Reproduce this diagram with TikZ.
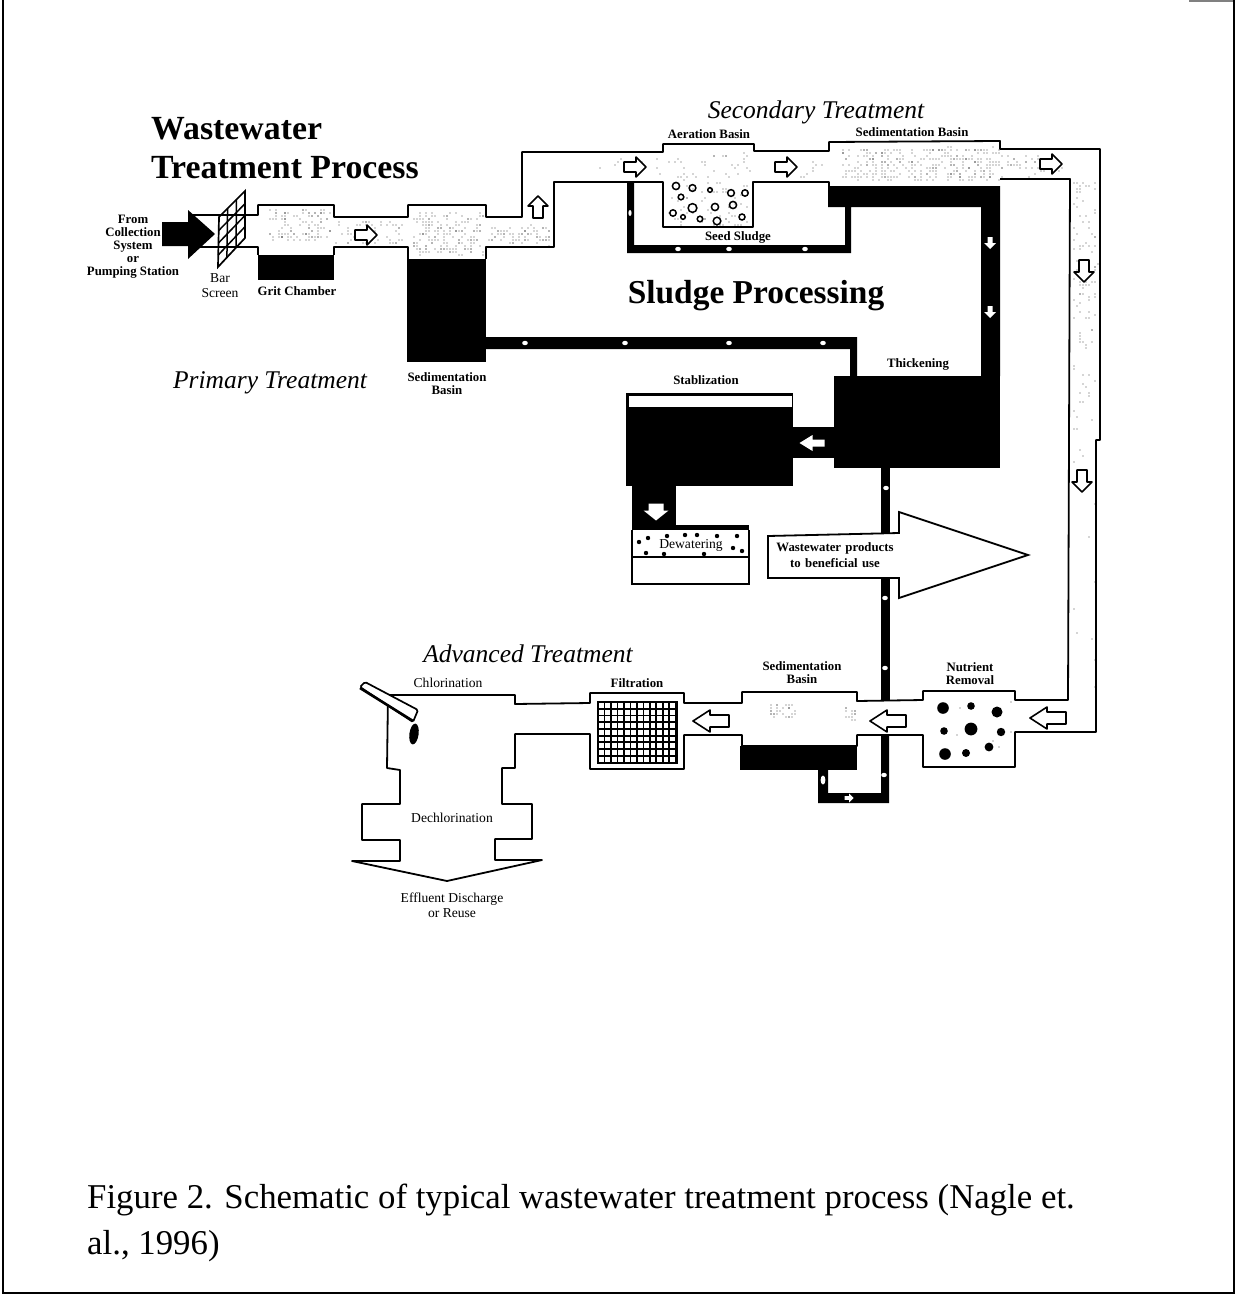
\documentclass[tikz,border=0pt]{standalone}
\usepackage{fontspec}
\setmainfont{Liberation Serif}
\usetikzlibrary{positioning}
\tikzset{
  pipeline/.style={line width=1.8pt, line join=round},
  sludge/.style={fill=black, draw=none},
  smalllabel/.style={font=\bfseries\fontsize{12.8}{13}\selectfont, align=center, inner sep=0pt},
  lightlabel/.style={font=\fontsize{13.6}{15}\selectfont, align=center, inner sep=0pt},
  stagelabel/.style={font=\itshape\fontsize{25.5}{27}\selectfont, inner sep=0pt},
  titlelabel/.style={font=\bfseries\fontsize{33.8}{39}\selectfont, align=left, inner sep=0pt},
  flowarrow/.pic={\draw[line width=1.6pt, fill=white, line join=round] (-11,-5)--(1,-5)--(1,-10)--(11,0)--(1,10)--(1,5)--(-11,5)--cycle;},
  bigflowarrow/.pic={\draw[line width=1.6pt, fill=white, line join=round] (-18,-6)--(1,-6)--(1,-11)--(18,0)--(1,11)--(1,6)--(-18,6)--cycle;},
  solidarrow/.pic={\fill[white] (-6,-2.5)--(0,-2.5)--(0,-6)--(6,0)--(0,6)--(0,2.5)--(-6,2.5)--cycle;},
  pressarrow/.pic={\fill[white] (-12,-3.5)--(0,-3.5)--(0,-8)--(13,0)--(0,8)--(0,3.5)--(-12,3.5)--cycle;},
  droparrow/.pic={\fill[white] (-8,-7.5)--(-1,-7.5)--(-1,-12.5)--(9,0)--(-1,12.5)--(-1,7.5)--(-8,7.5)--cycle;},
  sludgedot/.style={fill=white, draw=none}
}
\newcommand{\stipple}[5]{%
  \foreach \n in {1,...,#5}{
    \pgfmathsetmacro\dotx{3*round((#1+rnd*(#3-#1))/3)}
    \pgfmathsetmacro\doty{3*round((#2+rnd*(#4-#2))/3)}
    \fill[black!70] (\dotx,\doty) circle (0.55);
  }
}
\begin{document}
\begin{tikzpicture}[x=1pt,y=-1pt]
  \path[use as bounding box] (0,0) rectangle (1235,1295);
  \fill[white] (0,0) rectangle (1235,1295);
  % frame
  \draw[black!50, line width=1.6pt] (1189,0.8) -- (1234,0.8);
  \draw[line width=2pt] (3,0) -- (3,1293) -- (1234,1293) -- (1234,0);
  \pgfmathsetseed{17}
  % stipple in the channels
  \stipple{268}{210}{330}{240}{110}
  \stipple{335}{222}{405}{244}{50}
  \stipple{412}{212}{484}{255}{170}
  \stipple{490}{226}{552}{245}{70}
  \stipple{600}{160}{660}{174}{8}
  \stipple{668}{152}{750}{226}{100}
  \stipple{800}{160}{830}{178}{8}
  \stipple{843}{148}{998}{180}{300}
  \stipple{1000}{155}{1065}{176}{40}
  \stipple{1073}{180}{1097}{350}{80}
  \stipple{1073}{350}{1097}{470}{20}
  \stipple{1073}{470}{1097}{690}{8}
  \stipple{763}{703}{797}{717}{30}
  \stipple{843}{707}{857}{720}{14}
  \stipple{925}{695}{1012}{765}{10}
  % channel outlines
  \draw[pipeline] (190,215) -- (258,215) -- (258,205) -- (334,205) -- (334,217) -- (408,217) -- (408,205)
    -- (486,205) -- (486,217) -- (522,217) -- (522,152) -- (663,152) -- (663,144) -- (754,144) -- (754,151)
    -- (829,151) -- (829,142) -- (1000,141) -- (1000,149) -- (1100,149) -- (1100,440) -- (1096,440) -- (1096,732)
    -- (1015,732) -- (1015,767) -- (923,767) -- (923,735) -- (857,735) -- (857,746) -- (742,746) -- (742,735)
    -- (684,735) -- (684,769) -- (590,769) -- (590,734) -- (515,734) -- (515,768) -- (502,768) -- (502,804)
    -- (532,804) -- (532,839) -- (495,839) -- (495,860) -- (542,860) -- (447,881) -- (352,861) -- (400,861)
    -- (400,840) -- (362,840) -- (362,804) -- (400,804) -- (400,770) -- (387,768) -- (388,695) -- (515,695)
    -- (515,704) -- (590,703) -- (590,693) -- (684,693) -- (684,703) -- (742,703) -- (742,692) -- (857,692)
    -- (857,701) -- (923,700) -- (923,691) -- (1015,691) -- (1015,700) -- (1068,700) -- (1070,179) -- (1000,179);
  \draw[pipeline] (190,247) -- (258,247) -- (258,255);
  \draw[pipeline] (334,255) -- (334,247) -- (408,247) -- (408,259);
  \draw[pipeline] (486,259) -- (486,247) -- (554,247) -- (554,182) -- (663,182) -- (663,227) -- (753,227)
    -- (753,182) -- (829,182) -- (829,187);
  % black sludge parts, primary and secondary
  \fill[sludge] (258,255) rectangle (334,280);
  \fill[sludge] (407,259) rectangle (486,362);
  \fill[sludge] (486,337) -- (857,337) -- (857,376) -- (850,376) -- (850,349) -- (486,349) -- cycle;
  \fill[sludge] (828,186) -- (1000,186) -- (1000,376) -- (981,376) -- (981,207) -- (851,207) -- (851,253)
    -- (627,253) -- (627,182) -- (634,182) -- (634,245) -- (845,245) -- (845,207) -- (828,207) -- cycle;
  \fill[sludge] (834,376) rectangle (1000,468);
  \fill[sludge] (793,427) rectangle (834,458);
  \fill[sludge] (626,393) rectangle (793,486);
  \fill[white] (629,396) rectangle (792,407);
  \fill[sludge] (632,486) rectangle (676,526);
  \fill[sludge] (632,525) rectangle (749,530);
  \fill[sludge] (881,467) rectangle (890,701);
  \fill[sludge] (881,735) -- (889,735) -- (889,803) -- (818,803) -- (818,770) -- (828,770) -- (828,793) -- (881,793) -- cycle;
  \fill[sludge] (740,746) rectangle (857,770);
  % dots in the sludge lines
  \foreach \x/\y in {525/343,625/343,729/343,823/343,678/249,729/249,805/249,886/488,885/598,885/668,884/775}{
    \fill[sludgedot] (\x,\y) ellipse (2.8 and 2.2);
  }
  \fill[sludgedot] (630,213) ellipse (1.6 and 3);
  \fill[sludgedot] (823,780) ellipse (2.4 and 4.5);
  % aeration bubbles
  \foreach \x/\y/\r in {676/186/3.6,692.5/188/3.4,710/190/2.3,731/193/3.4,745/193/3.2,681/197/2.8,692.5/208/4.4,
    715/207/3.6,733/205/3.6,673/213/3.2,683/217/2.3,700/219/2.8,717/221/3.8,742/217/3}{
    \draw[line width=1.5pt] (\x,\y) circle (\r);
  }
  % dewatering
  \draw[line width=1.7pt] (632,530) -- (632,584) -- (749,584) -- (749,530);
  \draw[line width=1.7pt] (632,557) -- (749,557);
  \foreach \x/\y in {639/542,648/538,667/536,685/535,697/535,717/536,737/536,733/548,742/551,646/553,664/554,704/554}{
    \fill (\x,\y) circle (2.2);
  }
  % nutrient removal
  \foreach \x/\y/\r in {943/708/5.8,971/706/3.8,997/712/5.5,944/731/3.8,971/729/6.4,1001/732/4.2,945/754/5.8,966/753/4,989/747/4.4}{
    \fill (\x,\y) circle (\r);
  }
  % filtration grid
  \fill (597,701) rectangle (678,764);
  \foreach \i in {0,...,11}{
    \foreach \j in {0,...,8}{
      \fill[white] ({599+\i*6.47},{703+\j*6.7}) rectangle ++(4.7,4.9);
    }
  }
  % black inflow arrow
  \fill (162,222) -- (188,222) -- (188,210) -- (215,234) -- (188,259) -- (188,246) -- (162,246) -- cycle;
  % bar screen
  \draw[line width=1.7pt] (219,217) -- (245,191) -- (245,238) -- (218,267) -- cycle;
  \foreach \t in {0.33,0.67}{
    \draw[line width=1.5pt] ({219+26*\t},{217-26*\t}) -- ({218+27*\t},{267-29*\t});
  }
  \foreach \t in {0.27,0.52,0.76}{
    \draw[line width=1.5pt] ({219-1*\t},{217+50*\t}) -- (245,{191+47*\t});
  }
  % chlorine tube and drop
  \draw[line width=1.7pt, fill=white, rounded corners=1.5pt] (360,687) -- (365,682) -- (418,710) -- (413,722) -- cycle;
  \draw[line width=2.6pt] (360,688) -- (413,721);
  \fill[rotate around={-8:(414,734)}] (414,734) ellipse (4.6 and 10.5);
  % big product arrow
  \draw[line width=1.8pt, fill=white] (768,536) -- (899,533) -- (899,512) -- (1028,555) -- (899,598) -- (899,578) -- (768,578) -- cycle;
  % flow arrows
  \pic at (366,235) {flowarrow};
  \pic[rotate=90] at (538,207) {flowarrow};
  \pic at (635,167) {flowarrow};
  \pic at (786,167) {flowarrow};
  \pic at (1051,164) {flowarrow};
  \pic[rotate=-90] at (1084,271) {flowarrow};
  \pic[rotate=-90] at (1082,481) {flowarrow};
  \pic[rotate=180] at (711,721) {bigflowarrow};
  \pic[rotate=180] at (888,721) {bigflowarrow};
  \pic[rotate=180] at (1048,718) {bigflowarrow};
  \pic[rotate=-90] at (990,243) {solidarrow};
  \pic[rotate=-90] at (990,312) {solidarrow};
  \pic[rotate=180] at (812.5,443) {pressarrow};
  \pic[rotate=-90] at (656,511.5) {droparrow};
  \pic[scale=0.75] at (849,798) {solidarrow};
  % labels
  \node[titlelabel, anchor=north west] (titlenode) at (151,117) {Wastewater\\Treatment Process};
  \node[font=\bfseries\fontsize{33.4}{36}\selectfont, inner sep=0pt] (sludgetitle) at (756,296) {Sludge Processing};
  \node[stagelabel] (primarylabel) at (270,383) {Primary Treatment};
  \node[stagelabel] (secondarylabel) at (816,112) {Secondary Treatment};
  \node[stagelabel] (advancedlabel) at (528,654) {Advanced Treatment};
  \node[smalllabel] (inlet) at (133,247) {From\\Collection\\System\\or\\Pumping Station};
  \node[lightlabel] (barscreen) at (220,286) {Bar\\Screen};
  \node[smalllabel] (gritchamber) at (297,291) {Grit Chamber};
  \node[smalllabel] (primarybasin) at (447,384) {Sedimentation\\Basin};
  \node[smalllabel] (aeration) at (709,134) {Aeration Basin};
  \node[smalllabel] (secondarybasin) at (912,132) {Sedimentation Basin};
  \node[smalllabel] (seedsludge) at (738,237) {Seed Sludge};
  \node[smalllabel] (thickening) at (918,364) {Thickening};
  \node[smalllabel] (stabilization) at (706,380) {Stablization};
  \node[lightlabel] (dewatering) at (691,545) {Dewatering};
  \node[smalllabel, text width=130pt] (products) at (835,555) {Wastewater products\\[3pt]to beneficial use};
  \node[smalllabel] (advancedbasin) at (802,673) {Sedimentation\\Basin};
  \node[smalllabel] (nutrient) at (970,674) {Nutrient\\Removal};
  \node[smalllabel] (filtration) at (637,683) {Filtration};
  \node[lightlabel] (chlorination) at (448,683) {Chlorination};
  \node[lightlabel] (dechlorination) at (452,818) {Dechlorination};
  \node[lightlabel] (effluent) at (452,905) {Effluent Discharge\\or Reuse};
  \node[font=\fontsize{34.8}{46}\selectfont, align=left, inner sep=0pt, anchor=north west] (caption) at (87,1184)
    {Figure 2. Schematic of typical wastewater treatment process (Nagle et.\\al., 1996)};
\end{tikzpicture}
\end{document}
